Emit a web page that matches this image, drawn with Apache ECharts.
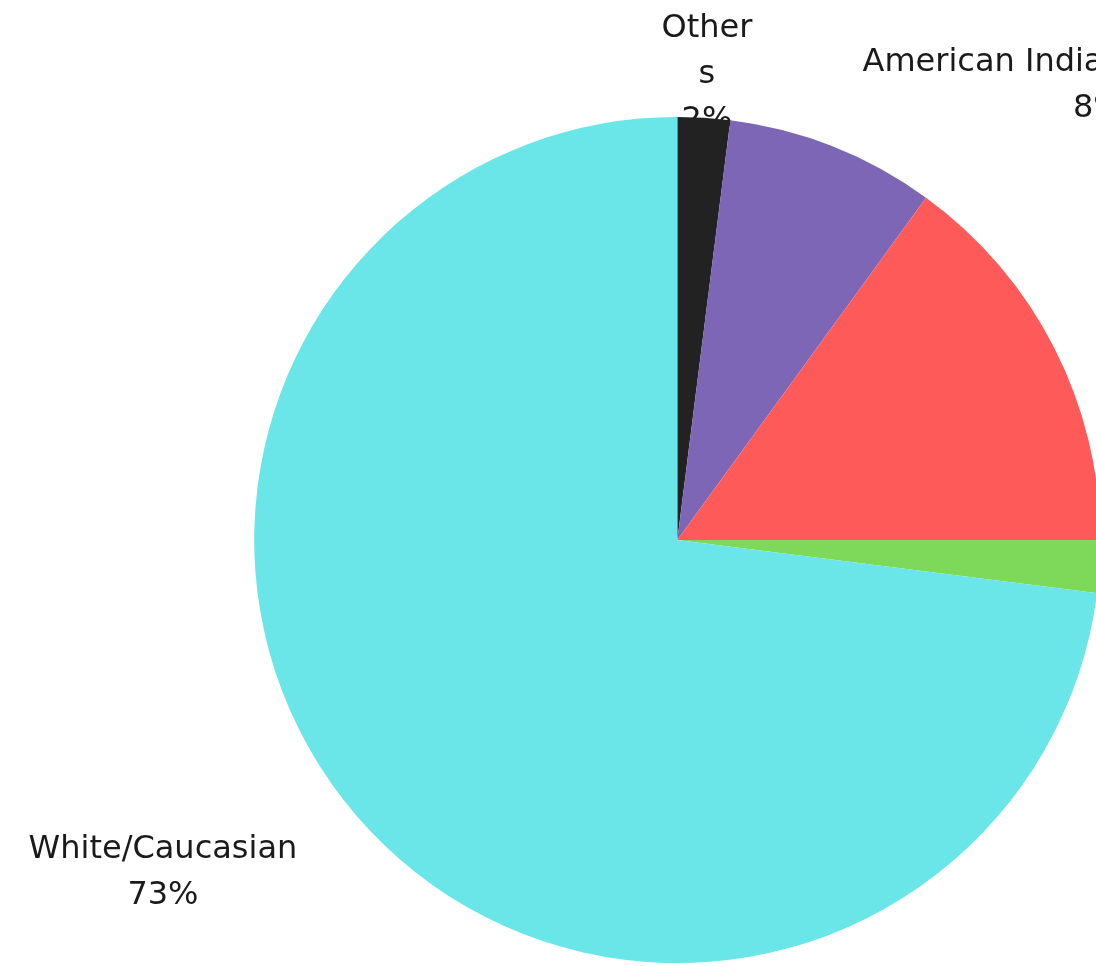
<!DOCTYPE html>
<html>
<head>
<meta charset="utf-8">
<script src="https://cdn.jsdelivr.net/npm/echarts@6/dist/echarts.min.js"></script>
<style>
html,body{margin:0;padding:0;background:#fff;overflow:hidden;}
#chart{width:1096px;height:966px;}
</style>
</head>
<body>
<div id="chart"></div>
<script>
// Data (clockwise from 12 o'clock)
const categories = ['Others', 'American Indian', 'Black/African American', 'Asian', 'White/Caucasian'];
const shares = [2, 8, 15, 2, 73];
const sliceColors = ['#222222', '#7E66B7', '#FF5A5A', '#7ED95A', '#6AE5E8'];
const labelVisible = [true, true, false, false, true];

// label placement tweaks relative to the library's outside position
const labelTweaks = [
  { align: 'center', dx: 0, dy: 5 },
  { align: 'right', dx: 273, dy: -16 },
  null,
  null,
  { align: 'center', dx: -161, dy: 21 }
];

const chart = echarts.init(document.getElementById('chart'), null, { renderer: 'canvas' });

const pieCommon = {
  type: 'pie',
  center: ['61.8%', '55.9%'],
  radius: '87.6%',
  startAngle: 90,
  clockwise: true,
  avoidLabelOverlap: false,
  emphasis: { disabled: true },
  silent: true
};

// Bottom layer: labels only (so the slices paint over them, as in the reference)
const labelData = categories.map((name, i) => ({
  name: name,
  value: shares[i],
  itemStyle: { color: 'rgba(0,0,0,0)' },
  label: i === 0
    ? { show: true, width: 96, overflow: 'breakAll' }
    : { show: labelVisible[i] }
}));

// Top layer: the slices
const sliceData = categories.map((name, i) => ({
  name: name,
  value: shares[i],
  itemStyle: { color: sliceColors[i] }
}));

chart.setOption({
  animation: false,
  backgroundColor: '#ffffff',
  series: [
    Object.assign({}, pieCommon, {
      z: 1,
      itemStyle: { borderWidth: 0 },
      label: {
        show: true,
        position: 'outside',
        formatter: '{b}\n{d}%',
        fontFamily: 'DejaVu Sans',
        fontSize: 32,
        lineHeight: 46,
        color: '#1a1a1a',
        overflow: 'none',
        distanceToLabelLine: 0
      },
      labelLine: { show: false, length: 48, length2: 0 },
      labelLayout: function (p) {
        const t = labelTweaks[p.dataIndex];
        return t ? t : {};
      },
      data: labelData
    }),
    Object.assign({}, pieCommon, {
      z: 3,
      itemStyle: { borderWidth: 0 },
      label: { show: false },
      labelLine: { show: false },
      data: sliceData
    })
  ]
});
</script>
</body>
</html>
